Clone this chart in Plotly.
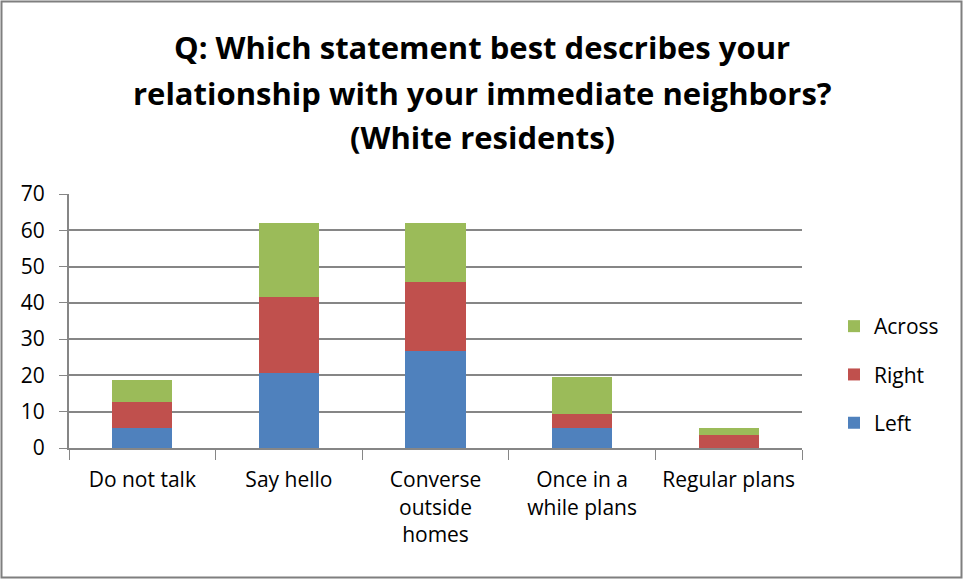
import plotly.graph_objects as go

categories = ["Do not talk", "Say hello", "Converse<br>outside<br>homes", "Once in a<br>while plans", "Regular plans"]
left = [5.6, 20.8, 26.8, 5.6, 0.0]
right = [7.2, 20.9, 19.0, 3.9, 3.7]
across = [6.0, 20.4, 16.3, 10.1, 1.9]
y_ticks = [0, 10, 20, 30, 40, 50, 60, 70]
title_lines = ["Q: Which statement best describes your",
               "relationship with your immediate neighbors?",
               "(White residents)"]

FONT = "Open Sans, Calibri, sans-serif"
W, H = 964, 580
ML, MR, MT, MB = 69, 162, 194, 132
PW, PH = W - ML - MR, H - MT - MB


def py(pixel_y):
    """Convert a pixel row of the page into paper y."""
    return (MT + PH - pixel_y) / PH


def px(pixel_x):
    return (pixel_x - ML) / PW


fig = go.Figure()
series = [("Left", left, "#4F81BD", 3), ("Right", right, "#C0504D", 2), ("Across", across, "#9BBB59", 1)]
for name, vals, color, rank in series:
    fig.add_trace(go.Bar(x=categories, y=vals, name=name, legendrank=rank, legendgroup=name,
                         marker=dict(color=color, line=dict(width=0))))

# outer chart frame
fig.add_shape(type="rect", xref="paper", yref="paper",
              x0=px(1.5), x1=px(W - 2.5), y0=py(H - 2.5), y1=py(1.5),
              line=dict(color="#7f7f7f", width=2), fillcolor="rgba(0,0,0,0)", layer="below")

# three-line bold title
for text, ypix in zip(title_lines, [47, 93, 137]):
    fig.add_annotation(text=f"<b>{text}</b>", xref="paper", yref="paper", x=px(W / 2), y=py(ypix),
                       xanchor="center", yanchor="middle", showarrow=False,
                       font=dict(size=31, family=FONT, color="#000000"))

fig.update_layout(
    width=W, height=H,
    margin=dict(l=ML, r=MR, t=MT, b=MB),
    barmode="stack", bargap=0.59,
    paper_bgcolor="white", plot_bgcolor="white",
    font=dict(family=FONT, size=21, color="#000000"),
    legend=dict(x=px(834), y=py(306), xanchor="left", yanchor="top",
                traceorder="grouped", tracegroupgap=18, font=dict(size=21),
                itemwidth=30, bgcolor="rgba(0,0,0,0)"),
    xaxis=dict(showline=True, linecolor="#868686", linewidth=2, ticks="outside", tickson="boundaries",
               ticklen=10, tickcolor="#868686", showgrid=False, tickfont=dict(size=21),
               ticklabelstandoff=12),
    yaxis=dict(range=[0, 70], tickvals=y_ticks, showgrid=True, gridcolor="#868686", gridwidth=1.5,
               showline=True, linecolor="#868686", linewidth=2, ticks="outside", ticklen=8,
               tickcolor="#868686", tickfont=dict(size=21), zeroline=False, ticklabelstandoff=10),
)

fig.write_html("out.html")
